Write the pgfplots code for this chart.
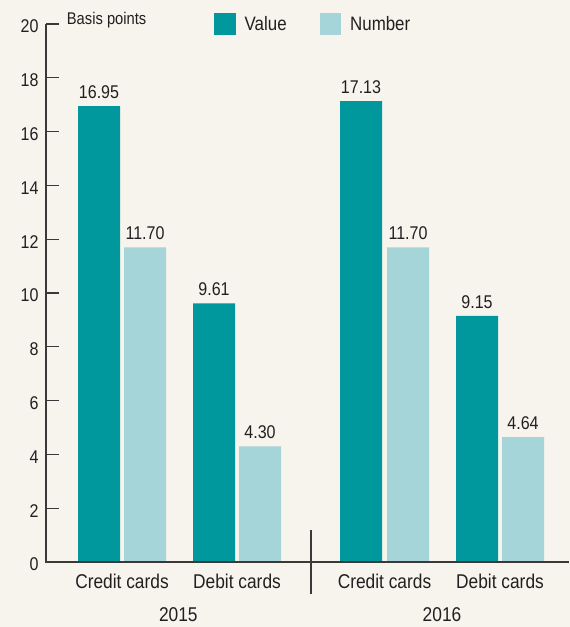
\documentclass[border=0pt]{standalone}
\usepackage{pgfplots}
\pgfplotsset{compat=1.18}
\usepackage{fontspec}
\setmainfont{Liberation Sans}[FakeStretch=0.87]
\definecolor{bgc}{HTML}{F7F4EE}
\definecolor{tealc}{HTML}{00979D}
\definecolor{lightc}{HTML}{A6D5D9}
\definecolor{txtc}{HTML}{231F20}
\definecolor{axisc}{HTML}{3A3838}
\newcommand\myfx{\fontsize{20}{24}\selectfont}
\newcommand\myfy{\fontsize{18.5}{22}\selectfont}
\newcommand\myfl{\fontsize{19.5}{23}\selectfont}
\newcommand\myfb{\fontsize{17}{20}\selectfont}
\begin{document}
\begin{tikzpicture}
\fill[bgc, use as bounding box] (0,0) rectangle (570bp,627bp);
\begin{axis}[
  at={(46bp,65bp)}, anchor=south west,
  scale only axis, width=523bp, height=538bp,
  xmin=46, xmax=569, ymin=0, ymax=20,
  axis x line=bottom, axis y line=left,
  axis line style={-, line width=1.3bp, color=axisc},
  every tick/.style={line width=1.3bp, color=axisc},
  ytick={0,2,...,20},
  major tick length=12.5bp,
  tick align=inside,
  xtick={122,237,384.5,500},
  xticklabels={Credit cards,Debit cards,Credit cards,Debit cards},
  xtick style={draw=none},
  xticklabel style={font=\myfx, text=txtc, anchor=base, yshift=-14bp},
  yticklabel style={font=\myfy, text=txtc, anchor=base east, yshift=-9bp, xshift=-4bp},
  /pgf/number format/assume math mode=true,
  ybar, bar width=42, bar shift=0pt,
  nodes near coords={\pgfmathprintnumber[fixed, fixed zerofill, precision=2, assume math mode=true]{\pgfplotspointmeta}},
  every node near coord/.append style={font=\myfy, text=txtc, anchor=base, inner sep=0pt, yshift=7.5bp},
  legend columns=2,
  legend style={at={(axis cs:214,20)}, anchor=west, draw=none, fill=none,
    inner sep=0pt, font=\myfl, text=txtc,
    /tikz/every odd column/.append style={column sep=7bp},
    /tikz/every even column/.append style={column sep=31bp}},
  legend image code/.code={\fill[#1] (0bp,-10.8bp) rectangle (21.5bp,10.8bp);},
  clip=false,
]
\addplot[fill=tealc, draw=none] coordinates {(99,16.95) (214,9.61) (361,17.13) (477,9.15)};
\addlegendentry{Value}
\addplot[fill=lightc, draw=none] coordinates {(145,11.70) (260,4.30) (408,11.70) (523,4.64)};
\addlegendentry{Number}
\coordinate (ytop) at (axis cs:46,20);
\coordinate (orig) at (axis cs:46,0);
\coordinate (xend) at (axis cs:569,0);
\node[font=\myfb, text=txtc, anchor=base west, inner sep=0pt] at ([yshift=-0.5bp]axis cs:66.7,20) {Basis points};
\draw[line width=1.4bp, draw=axisc] ([yshift=31.5bp]axis cs:311,0) -- ([yshift=-31.8bp]axis cs:311,0);
\node[font=\myfx, text=txtc, anchor=base, inner sep=0pt] at ([yshift=-59bp]axis cs:178.3,0) {2015};
\node[font=\myfx, text=txtc, anchor=base, inner sep=0pt] at ([yshift=-59bp]axis cs:442,0) {2016};
\end{axis}
\fill[axisc] ([xshift=-0.7bp]ytop) rectangle ([xshift=0.7bp, yshift=-0.7bp]orig);
\fill[axisc] ([xshift=-0.7bp, yshift=0.7bp]orig) rectangle ([yshift=-0.7bp]xend);
\end{tikzpicture}
\end{document}
